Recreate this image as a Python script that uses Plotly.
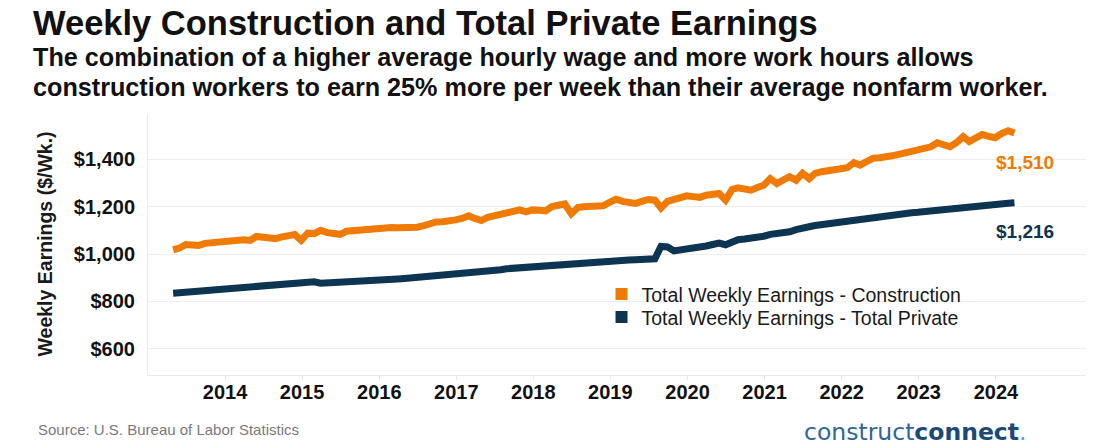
import plotly.graph_objects as go
import pandas as pd

# ---------------- data ----------------
months = pd.date_range("2013-11-01", "2024-10-01", freq="MS")

construction = [
    1018, 1025, 1040, 1037, 1036, 1045, 1048, 1050, 1053, 1052,
    1058, 1060, 1057, 1074, 1071, 1068, 1065, 1072, 1076, 1082,
    1058, 1088, 1086, 1100, 1090, 1086, 1083, 1096, 1099, 1101,
    1106, 1109, 1112, 1114, 1112, 1111, 1110, 1112, 1113, 1120,
    1128, 1135, 1136, 1138, 1144, 1150, 1161, 1150, 1141, 1155,
    1161, 1166, 1172, 1175, 1186, 1178, 1186, 1184, 1182, 1200,
    1206, 1211, 1170, 1196, 1199, 1200, 1201, 1203, 1218, 1231,
    1222, 1218, 1213, 1222, 1230, 1227, 1194, 1222, 1232, 1238,
    1245, 1242, 1239, 1248, 1251, 1255, 1227, 1272, 1279, 1274,
    1269, 1280, 1290, 1318, 1297, 1312, 1326, 1311, 1340, 1318,
    1340, 1347, 1350, 1353, 1357, 1364, 1385, 1375, 1390, 1404,
    1406, 1408, 1414, 1420, 1426, 1436, 1442, 1446, 1452, 1469,
    1462, 1452, 1470, 1495, 1474, 1490, 1504, 1496, 1490, 1508,
    1520, 1510,
]

total_private = [
    835, 837, 839, 841, 842, 844, 846, 848, 853, 855,
    857, 858, 860, 862, 863, 865, 866, 868, 869, 870,
    872, 874, 883, 877, 878, 879, 881, 882, 884, 885,
    886, 887, 888, 890, 892, 895, 897, 899, 900, 902,
    904, 906, 908, 911, 914, 916, 919, 922, 925, 928,
    931, 934, 938, 940, 942, 944, 947, 950, 953, 955,
    957, 960, 963, 966, 967, 969, 970, 971, 972, 973,
    974, 975, 976, 977, 978, 980, 1032, 1030, 1013, 1016,
    1020, 1025, 1030, 1034, 1040, 1046, 1039, 1050, 1060, 1063,
    1066, 1071, 1075, 1083, 1085, 1090, 1094, 1103, 1112, 1115,
    1120, 1124, 1128, 1134, 1137, 1141, 1145, 1148, 1151, 1155,
    1158, 1161, 1164, 1167, 1170, 1174, 1176, 1179, 1183, 1187,
    1190, 1192, 1195, 1199, 1203, 1204, 1206, 1208, 1210, 1212,
    1214, 1216,
]

year_labels = ["2014", "2015", "2016", "2017", "2018", "2019",
               "2020", "2021", "2022", "2023", "2024"]
year_ticks = [f"{y}-07-05" for y in year_labels]

y_ticks = [600, 800, 1000, 1200, 1400]
y_tick_labels = ["$600", "$800", "$1,000", "$1,200", "$1,400"]

series_names = ["Total Weekly Earnings - Construction",
                "Total Weekly Earnings - Total Private"]
ORANGE = "#EF7B05"
NAVY = "#0D3450"

FONT = "Liberation Sans, Arial, sans-serif"

fig = go.Figure()

fig.add_trace(go.Scatter(x=months, y=construction, mode="lines",
                         line=dict(color=ORANGE, width=7),
                         name=series_names[0], showlegend=False))
fig.add_trace(go.Scatter(x=months, y=total_private, mode="lines",
                         line=dict(color=NAVY, width=7),
                         name=series_names[1], showlegend=False))

# legend entries with square swatches (one legend box per entry)
for nm, col, lg in zip(series_names, [ORANGE, NAVY], ["legend", "legend2"]):
    fig.add_trace(go.Scatter(x=[None], y=[None], mode="markers",
                             marker=dict(symbol="square", size=12, color=col),
                             name=nm, showlegend=True, legend=lg))

# end labels
fig.add_annotation(x=months[-1], y=construction[-1], xref="x", yref="y",
                   text=f"<b>${construction[-1]:,}</b>", showarrow=False,
                   xshift=11, yshift=-29,
                   font=dict(family=FONT, size=19, color=ORANGE))
fig.add_annotation(x=months[-1], y=total_private[-1], xref="x", yref="y",
                   text=f"<b>${total_private[-1]:,}</b>", showarrow=False,
                   xshift=11, yshift=-29,
                   font=dict(family=FONT, size=19, color=NAVY))

# titles
fig.add_annotation(xref="paper", yref="paper", x=-0.1245, y=1.352,
                   xanchor="left", yanchor="middle", showarrow=False,
                   text="<b>Weekly Construction and Total Private Earnings</b>",
                   font=dict(family=FONT, size=34.5, color="#111111"))
fig.add_annotation(xref="paper", yref="paper", x=-0.1245, y=1.223,
                   xanchor="left", yanchor="middle", showarrow=False,
                   text="<b>The combination of a higher average hourly wage and more work hours allows</b>",
                   font=dict(family=FONT, size=25.2, color="#111111"))
fig.add_annotation(xref="paper", yref="paper", x=-0.1245, y=1.1096,
                   xanchor="left", yanchor="middle", showarrow=False,
                   text="<b>construction workers to earn 25% more per week than their average nonfarm worker.</b>",
                   font=dict(family=FONT, size=25.2, color="#111111"))

# y-axis title
fig.add_annotation(xref="paper", yref="paper", x=-0.1098, y=0.502,
                   xanchor="center", yanchor="middle", showarrow=False,
                   textangle=-90, text="<b>Weekly Earnings ($/Wk.)</b>",
                   font=dict(family=FONT, size=19.5, color="#1a1a1a"))

# source and logo
fig.add_annotation(xref="paper", yref="paper", x=-0.1195, y=-0.208,
                   xanchor="left", yanchor="middle", showarrow=False,
                   text="Source: U.S. Bureau of Labor Statistics",
                   font=dict(family=FONT, size=15, color="#7a7a7a"))
fig.add_annotation(xref="paper", yref="paper", x=0.9385, y=-0.218,
                   xanchor="right", yanchor="middle", showarrow=False,
                   text="<span style='color:#2f6694'>construct</span><b style='color:#1b4a77'>connect</b><span style='color:#5aa0d8'>.</span>",
                   font=dict(family="DejaVu Sans, sans-serif", size=23.5, color="#1b4a77"))

legend_common = dict(xanchor="left", yanchor="top",
                     font=dict(family=FONT, size=19.5, color="#1a1a1a"),
                     bgcolor="rgba(0,0,0,0)", itemwidth=30)

fig.update_layout(
    width=1109, height=446,
    margin=dict(l=148, r=23, t=115, b=71),
    paper_bgcolor="white", plot_bgcolor="white",
    font=dict(family=FONT, color="#111111"),
    legend=dict(x=0.4835, y=0.385, **legend_common),
    legend2=dict(x=0.4835, y=0.2965, **legend_common),
    xaxis=dict(
        type="date",
        range=["2013-07-05", "2025-09-05"],
        tickmode="array", tickvals=year_ticks, ticktext=year_labels,
        tickfont=dict(family=FONT, size=20, color="#111111", weight="bold"),
        showgrid=False, showline=True, linecolor="#e8e8e8", linewidth=1,
        ticks="outside", ticklen=4, tickcolor="#e8e8e8",
        ticklabelstandoff=-5,
        zeroline=False,
    ),
    yaxis=dict(
        range=[490, 1586],
        tickmode="array", tickvals=y_ticks, ticktext=y_tick_labels,
        tickfont=dict(family=FONT, size=20, color="#111111", weight="bold"),
        showgrid=True, gridcolor="#eeeeee", gridwidth=1,
        showline=True, linecolor="#e8e8e8", linewidth=1,
        ticks="", ticklabelstandoff=8, zeroline=False,
    ),
)

fig.write_html("out.html",
               config={"displayModeBar": False},
               post_script="document.body.style.margin='0';document.body.style.overflow='hidden';")
